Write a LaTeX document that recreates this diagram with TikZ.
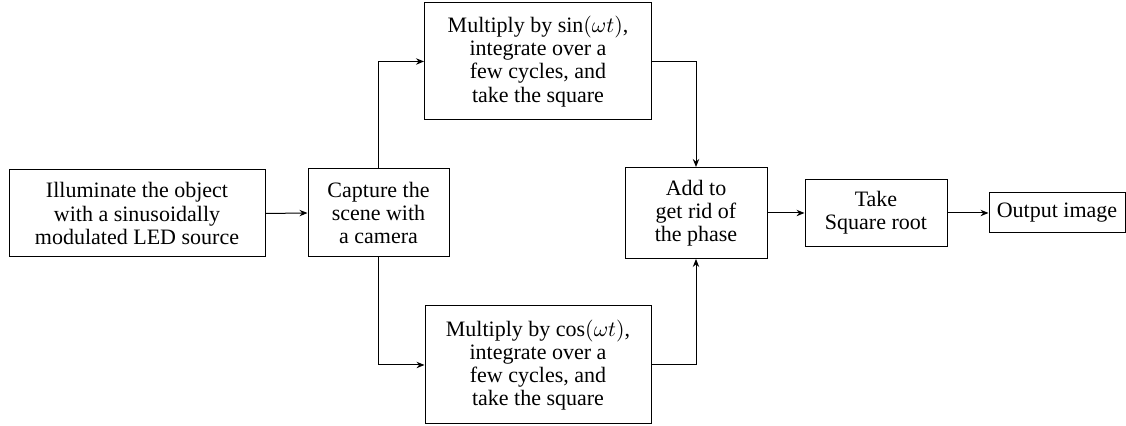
\documentclass[tikz,border=0pt]{standalone}
\usepackage{fontspec}
\setmainfont{Liberation Serif}
\usetikzlibrary{arrows.meta,positioning}
\begin{document}
\begin{tikzpicture}[x=0.5pt,y=0.5pt,
   stagebox/.style={draw=black, line width=0.5pt, align=center,
                    inner sep=2pt, font=\fontsize{11}{11.6}\selectfont},
   flowarr/.style={-{Stealth[length=4pt,width=3.2pt]},line width=0.5pt}]

  \useasboundingbox (0,0) rectangle (1126,426);

  % Input side
  \node[stagebox,minimum width=128pt,minimum height=43.5pt] (illum) at (137,212.5) {%
    Illuminate the object\\with a sinusoidally\\modulated LED source};
  \node[stagebox,minimum width=70.5pt,minimum height=44pt] (capture) at (378.5,213) {%
    Capture the\\scene with\\a camera};

  % Two branches
  \node[stagebox,minimum width=113.5pt,minimum height=58.5pt] (sinbr) at (538,364.5) {%
    Multiply by $\sin(\omega t)$,\\integrate over a\\few cycles, and\\take the square};
  \node[stagebox,minimum width=113pt,minimum height=59pt] (cosbr) at (538,61) {%
    Multiply by $\cos(\omega t)$,\\integrate over a\\few cycles, and\\take the square};

  % Output side
  \node[stagebox,minimum width=71pt,minimum height=45.5pt] (addph) at (696,213) {%
    Add to\\get rid of\\the phase};
  \node[stagebox,minimum width=71pt,minimum height=33.5pt] (sqroot) at (876,213) {%
    Take\\Square root};
  \node[stagebox,minimum width=68pt,minimum height=20pt] (outimg) at (1057,213) {%
    Output image};

  % Connectors
  \draw[flowarr] (illum.east) -- (capture.west);
  \draw[flowarr] (capture.north) |- (sinbr.west);
  \draw[flowarr] (capture.south) |- (cosbr.west);
  \draw[flowarr] (sinbr.east) -| (addph.north);
  \draw[flowarr] (cosbr.east) -| (addph.south);
  \draw[flowarr] (addph.east) -- (sqroot.west);
  \draw[flowarr] (sqroot.east) -- (outimg.west);
\end{tikzpicture}
\end{document}
